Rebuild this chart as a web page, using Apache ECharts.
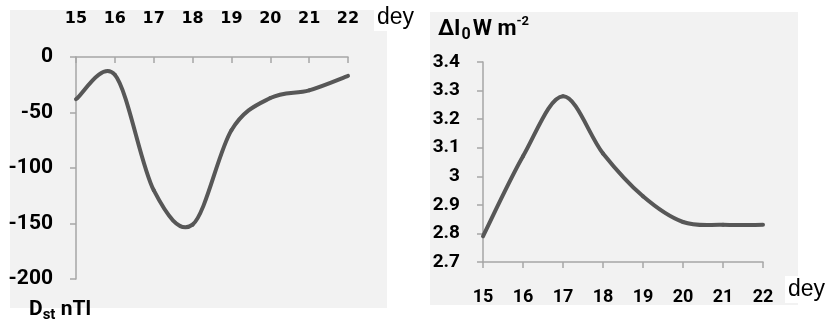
<!DOCTYPE html>
<html>
<head>
<meta charset="utf-8">
<script src="https://cdn.jsdelivr.net/npm/echarts@6/dist/echarts.min.js"></script>
<style>
  html, body { margin: 0; padding: 0; background: #ffffff; }
  #chart { width: 830px; height: 324px; }
</style>
</head>
<body>
<div id="chart"></div>
<script>
// Days of the storm period (shared by both panels)
var days = ['15', '16', '17', '18', '19', '20', '21', '22'];

// Dst index, nT
var dstValues = [-38, -16, -120, -151, -66, -37, -30, -17];

// Change of ΔI0, W m^-2
var deltaI0Values = [2.79, 3.07, 3.28, 3.08, 2.93, 2.84, 2.83, 2.83];

// Value-axis ranges
var dstAxis = { min: -200, max: 0, step: 50 };
var dI0Axis = { min: 2.7, max: 3.4, step: 0.1 };

var LINE = '#575757';
var AXIS = '#a6a6a6';
var PANEL = '#f2f2f2';

var chart = echarts.init(document.getElementById('chart'), null, { renderer: 'canvas' });

// Smooth curve through the points (Catmull-Rom spline as cubic Bezier pieces),
// each piece positioned through the axes with api.coord.
function splineItem(params, api) {
  var i = params.dataIndex;
  var n = params.dataInsideLength;
  if (i >= n - 1) return null;
  function pt(k) {
    k = Math.max(0, Math.min(n - 1, k));
    return api.coord([api.value(0, k), api.value(1, k)]);
  }
  var p0 = pt(i - 1), p1 = pt(i), p2 = pt(i + 1), p3 = pt(i + 2);
  var t = 1 / 6;
  return {
    type: 'bezierCurve',
    shape: {
      x1: p1[0], y1: p1[1],
      cpx1: p1[0] + (p2[0] - p0[0]) * t, cpy1: p1[1] + (p2[1] - p0[1]) * t,
      cpx2: p2[0] - (p3[0] - p1[0]) * t, cpy2: p2[1] - (p3[1] - p1[1]) * t,
      x2: p2[0], y2: p2[1]
    },
    style: { stroke: LINE, lineWidth: 4, fill: null, lineCap: 'round' }
  };
}

function pairs(values) {
  return values.map(function (v, i) { return [i, v]; });
}

var tickStyle = { show: true, length: 6, lineStyle: { color: AXIS, width: 1.5 } };
var lineStyleAxis = { show: true, onZero: false, lineStyle: { color: AXIS, width: 1.5 } };

chart.setOption({
  animation: false,
  backgroundColor: '#ffffff',
  graphic: [
    { type: 'rect', z: -10, shape: { x: 10, y: 10, width: 377, height: 298 }, style: { fill: PANEL } },
    { type: 'rect', z: -10, shape: { x: 430, y: 12, width: 368, height: 293 }, style: { fill: PANEL } }
  ],
  title: [
    {
      text: 'dey', left: 374, top: 4,
      backgroundColor: '#ffffff', padding: [2, 4, 2, 3],
      textStyle: { fontFamily: 'Liberation Sans', fontSize: 23, fontWeight: 'normal', color: '#000' }
    },
    {
      text: 'dey', left: 785, top: 276,
      backgroundColor: '#ffffff', padding: [2, 6, 2, 3],
      textStyle: { fontFamily: 'Liberation Sans', fontSize: 23, fontWeight: 'normal', color: '#000' }
    },
    {
      text: '{m|D}{s|st}{m| nTl}', left: 29, top: 297, padding: 0,
      textStyle: {
        rich: {
          m: { fontFamily: 'Roboto', fontSize: 21, fontWeight: 'bold', color: '#000', lineHeight: 26 },
          s: { fontFamily: 'Roboto', fontSize: 15, fontWeight: 'bold', color: '#000', lineHeight: 14, verticalAlign: 'bottom' }
        }
      }
    },
    {
      text: '{m|ΔI}{s|0}{m|W m}{p|-2}', left: 438, top: 15, padding: 0,
      textStyle: {
        rich: {
          m: { fontFamily: 'Roboto', fontSize: 22, fontWeight: 'bold', color: '#000', lineHeight: 28 },
          s: { fontFamily: 'Roboto', fontSize: 16, fontWeight: 'bold', color: '#000', lineHeight: 15, verticalAlign: 'bottom', padding: [0, 2, 0, 1] },
          p: { fontFamily: 'Roboto', fontSize: 13, fontWeight: 'bold', color: '#000', lineHeight: 12, verticalAlign: 'top' }
        }
      }
    }
  ],
  grid: [
    { left: 76, right: 482, top: 57, bottom: 45 },
    { left: 483, right: 67, top: 62, bottom: 62 }
  ],
  xAxis: [
    {
      gridIndex: 0, type: 'category', data: days, position: 'top', boundaryGap: false,
      axisLine: lineStyleAxis,
      axisTick: { show: true, inside: true, length: 6, lineStyle: { color: AXIS, width: 1.5 } },
      axisLabel: { margin: 30, color: '#000', fontFamily: 'DejaVu Sans', fontWeight: 'bold', fontSize: 16 },
      splitLine: { show: false }
    },
    {
      gridIndex: 1, type: 'category', data: days, position: 'bottom', boundaryGap: false,
      axisLine: lineStyleAxis,
      axisTick: tickStyle,
      axisLabel: { margin: 26, color: '#000', fontFamily: 'Roboto', fontWeight: 'bold', fontSize: 18 },
      splitLine: { show: false }
    }
  ],
  yAxis: [
    {
      gridIndex: 0, type: 'value', min: dstAxis.min, max: dstAxis.max, interval: dstAxis.step,
      axisLine: lineStyleAxis,
      axisTick: tickStyle,
      axisLabel: { margin: 23, color: '#000', fontFamily: 'Roboto', fontWeight: 'bold', fontSize: 21 },
      splitLine: { show: false }
    },
    {
      gridIndex: 1, type: 'value', min: dI0Axis.min, max: dI0Axis.max, interval: dI0Axis.step,
      axisLine: lineStyleAxis,
      axisTick: tickStyle,
      axisLabel: {
        margin: 23, color: '#000', fontFamily: 'Roboto', fontWeight: 'bold', fontSize: 19,
        formatter: function (v) { return String(Math.round(v * 10) / 10); }
      },
      splitLine: { show: false }
    }
  ],
  series: [
    {
      type: 'custom', xAxisIndex: 0, yAxisIndex: 0, data: pairs(dstValues),
      renderItem: splineItem, clip: false
    },
    {
      type: 'custom', xAxisIndex: 1, yAxisIndex: 1, data: pairs(deltaI0Values),
      renderItem: splineItem, clip: false
    }
  ]
});
</script>
</body>
</html>
